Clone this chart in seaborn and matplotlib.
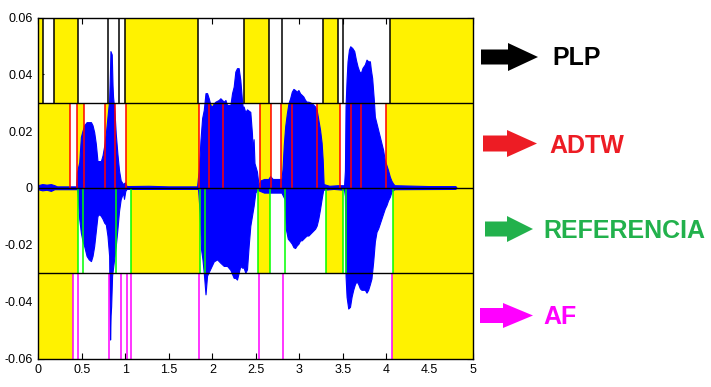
import numpy as np
import pandas as pd
import matplotlib
matplotlib.use("Agg")
import matplotlib.pyplot as plt
from matplotlib.patches import FancyArrow
import seaborn as sns

# waveform envelope (time in s, amplitude)
t_up = [0.0, 0.05, 0.10, 0.15, 0.19, 0.22, 0.44,
        0.449, 0.475, 0.494, 0.513, 0.532, 0.56, 0.61, 0.628, 0.647, 0.666, 0.685, 0.724,
        0.743, 0.763, 0.781, 0.80, 0.819, 0.828, 0.834, 0.849, 0.858, 0.864, 0.88, 0.895,
        0.914, 0.933, 0.952, 0.979, 1.0, 1.02, 1.27, 1.5, 1.83,
        1.842, 1.85, 1.869, 1.888, 1.907, 1.927, 1.945, 1.964, 1.984, 2.003, 2.022, 2.041,
        2.079, 2.098, 2.117, 2.137, 2.156, 2.175, 2.213, 2.232, 2.251, 2.27, 2.289, 2.308,
        2.327, 2.346, 2.358, 2.365, 2.385, 2.404, 2.442, 2.461, 2.47, 2.48, 2.49, 2.518, 2.537,
        2.56, 2.6, 2.65, 2.67, 2.7, 2.76, 2.80,
        2.812, 2.827, 2.843, 2.862, 2.881, 2.9, 2.919, 2.938, 2.957, 2.976, 2.995, 3.015,
        3.033, 3.052, 3.072, 3.09, 3.11, 3.148, 3.187, 3.205, 3.224, 3.244, 3.262, 3.274, 3.285,
        3.35, 3.45, 3.52,
        3.53, 3.537, 3.549, 3.56, 3.576, 3.591, 3.614, 3.637, 3.656, 3.675, 3.694, 3.713,
        3.732, 3.759, 3.778, 3.797, 3.817, 3.828, 3.843, 3.862, 3.874, 3.912, 3.931, 3.95,
        3.969, 3.988, 4.007, 4.026, 4.046, 4.064, 4.083, 4.1, 4.5, 4.8, 4.81]
v_up = [0.0008, 0.0012, 0.0010, 0.0012, 0.0008, 0.0004, 0.0004,
        0.0054, 0.0089, 0.0178, 0.020, 0.0219, 0.023, 0.023, 0.0219, 0.0195, 0.0154, 0.0093, 0.0093,
        0.0113, 0.0148, 0.019, 0.025, 0.0307, 0.040, 0.048, 0.0468, 0.036, 0.0319, 0.027, 0.019,
        0.0119, 0.006, 0.0025, 0.0012, 0.0018, 0.0005, 0.0006, 0.0004, 0.0004,
        0.004, 0.006, 0.0167, 0.0244, 0.0273, 0.0332, 0.0332, 0.0314, 0.029, 0.0285, 0.0296, 0.0302,
        0.0308, 0.0314, 0.0308, 0.0302, 0.0308, 0.029, 0.029, 0.0332, 0.0355, 0.0408, 0.042, 0.042,
        0.0379, 0.0308, 0.0273, 0.0285, 0.0265, 0.0275, 0.0266, 0.019, 0.012, 0.017, 0.0086, 0.0056, 0.0009,
        0.0025, 0.003, 0.003, 0.004, 0.003, 0.003, 0.003,
        0.0064, 0.015, 0.0215, 0.026, 0.0297, 0.0314, 0.0337, 0.0347, 0.0343, 0.0337, 0.0343, 0.0331,
        0.0326, 0.032, 0.0308, 0.0302, 0.0302, 0.0297, 0.0285, 0.0273, 0.0238, 0.0203, 0.0157, 0.0099, 0.0012,
        0.0006, 0.0008, 0.0008,
        0.006, 0.0285, 0.038, 0.0444, 0.0485, 0.0497, 0.0491, 0.048, 0.045, 0.0426, 0.0409, 0.0403,
        0.0421, 0.0433, 0.045, 0.0444, 0.0444, 0.0415, 0.0385, 0.0309, 0.0249, 0.0202, 0.0179, 0.0155,
        0.0132, 0.0096, 0.0079, 0.0061, 0.0038, 0.0024, 0.0014, 0.0008, 0.0005, 0.0005, 0.0]

t_lo = [0.0, 0.05, 0.10, 0.15, 0.19, 0.45,
        0.456, 0.475, 0.494, 0.513, 0.532, 0.56, 0.585, 0.61, 0.628, 0.647, 0.666, 0.685, 0.705,
        0.724, 0.743, 0.763, 0.781, 0.80, 0.819, 0.826, 0.830, 0.836, 0.842, 0.853, 0.876, 0.895,
        0.914, 0.933, 0.952, 0.979, 0.99, 1.005, 1.02, 1.83,
        1.842, 1.86, 1.876, 1.892, 1.907, 1.918, 1.927, 1.945, 1.984, 2.022, 2.06, 2.098, 2.137,
        2.175, 2.213, 2.251, 2.27, 2.289, 2.308, 2.327, 2.346, 2.365, 2.385, 2.404, 2.423, 2.442,
        2.48, 2.50, 2.52,
        2.6, 2.7, 2.8, 2.835,
        2.85, 2.873, 2.9, 2.919, 2.938, 2.957, 2.976, 2.995, 3.015, 3.033, 3.052, 3.072, 3.09,
        3.11, 3.148, 3.187, 3.205, 3.224, 3.244, 3.262, 3.28,
        3.4, 3.52,
        3.53, 3.537, 3.549, 3.568, 3.588, 3.606, 3.625, 3.645, 3.663, 3.683, 3.702, 3.72, 3.74,
        3.759, 3.778, 3.797, 3.817, 3.835, 3.855, 3.874, 3.893, 3.912, 3.931, 3.95, 3.969, 3.988,
        4.007, 4.026, 4.046, 4.064, 4.083, 4.1, 4.8, 4.81]
v_lo = [-0.0006, -0.0010, -0.0008, -0.0012, -0.0006, -0.0006,
        -0.0018, -0.011, -0.0159, -0.0188, -0.0206, -0.0241, -0.0253, -0.0259, -0.0241, -0.0206, -0.0153, -0.010, -0.0094,
        -0.010, -0.011, -0.0124, -0.013, -0.017, -0.024, -0.045, -0.0535, -0.045, -0.0418, -0.031, -0.0253, -0.0206,
        -0.0147, -0.0082, -0.0041, -0.0018, -0.004, -0.0012, -0.0005, -0.0005,
        -0.0006, -0.009, -0.0218, -0.0253, -0.030, -0.034, -0.0376, -0.031, -0.0285, -0.026, -0.0253, -0.0265, -0.0276,
        -0.0276, -0.029, -0.0318, -0.0318, -0.0324, -0.030, -0.0276, -0.0282, -0.0282, -0.030, -0.0288, -0.0206, -0.0135,
        -0.0065, -0.0018, -0.0008,
        -0.0018, -0.0018, -0.0018, -0.004,
        -0.0145, -0.018, -0.019, -0.0198, -0.021, -0.0213, -0.0204, -0.0198, -0.0186, -0.0186, -0.018, -0.0174, -0.0169,
        -0.0169, -0.0157, -0.0145, -0.0134, -0.011, -0.0075, -0.004, -0.0008,
        -0.0005, -0.0008,
        -0.003, -0.031, -0.0385, -0.0426, -0.042, -0.0385, -0.036, -0.034, -0.033, -0.034, -0.0355, -0.036, -0.036,
        -0.036, -0.037, -0.036, -0.034, -0.032, -0.026, -0.019, -0.0156, -0.0144, -0.0127, -0.0109, -0.0091, -0.0074,
        -0.0062, -0.0045, -0.0033, -0.0015, -0.0009, -0.0006, -0.0005, 0.0]

# segmentation of each method (s)
plp_lines = [0.055, 0.174, 0.456, 0.80, 0.925, 0.994, 1.83, 2.36, 2.655, 2.806, 3.274, 3.446, 3.499, 4.043]
plp_yellow = [(0, 0.055), (0.174, 0.456), (0.994, 1.83), (2.36, 2.655), (3.274, 3.446), (4.043, 5)]

adtw_lines = [0.364, 0.444, 0.525, 0.765, 0.880, 1.006, 1.842, 1.961, 2.117, 2.552, 2.678, 2.793,
              2.919, 3.198, 3.465, 3.594, 3.709, 3.995]
adtw_yellow = [(0, 0.364), (0.444, 0.525), (0.765, 0.880), (1.006, 1.842), (1.961, 2.117),
               (2.552, 2.678), (2.793, 2.919), (3.198, 3.465), (3.594, 3.709), (3.995, 5)]

ref_lines = [0.456, 0.513, 0.891, 1.063, 1.858, 1.911, 2.529, 2.667, 2.838, 3.308, 3.505, 3.537, 4.072]
ref_yellow = [(0, 0.456), (1.063, 1.858), (2.529, 2.667), (3.308, 3.505), (4.072, 5)]

af_lines = [0.399, 0.456, 0.811, 0.948, 1.017, 1.063, 1.842, 2.541, 2.816, 4.064]
af_yellow = [(0, 0.399), (4.064, 5)]

labels = ["PLP", "ADTW", "REFERENCIA", "AF"]
label_colors = ["#000000", "#ed1c24", "#22b14c", "#ff00ff"]
line_colors = ["#000000", "#ff0000", "#00ff00", "#ff00ff"]

sns.set_style("ticks")
plt.rcParams["font.family"] = ["Liberation Sans", "DejaVu Sans"]
plt.rcParams["axes.unicode_minus"] = False

fig = plt.figure(figsize=(7.11, 3.87), dpi=100)
ax = fig.add_axes([38.4 / 711, 1 - 358.5 / 387, (473.3 - 38.4) / 711, (358.5 - 17.5) / 387])

yel = "#fff200"
strips = [(0.03, 0.06, plp_yellow, plp_lines),
          (0.0, 0.03, adtw_yellow, adtw_lines),
          (-0.03, 0.0, ref_yellow, ref_lines),
          (-0.06, -0.03, af_yellow, af_lines)]

for (lo, hi, yl, ln), c in zip(strips, line_colors):
    for a, b in yl:
        ax.fill_between([a, b], lo, hi, color=yel, lw=0, zorder=1)

# waveform
ax.fill(np.r_[t_up, t_lo[::-1]], np.r_[v_up, v_lo[::-1]], color="#0000ff", lw=0, zorder=2)
up = pd.DataFrame({"t": t_up, "v": v_up})
dn = pd.DataFrame({"t": t_lo, "v": v_lo})
sns.lineplot(data=up, x="t", y="v", ax=ax, color="#0000ff", lw=0.8, estimator=None, zorder=2)
sns.lineplot(data=dn, x="t", y="v", ax=ax, color="#0000ff", lw=0.8, estimator=None, zorder=2)

for (lo, hi, yl, ln), c in zip(strips, line_colors):
    ax.vlines(ln, lo, hi, colors=c, lw=1.1, zorder=3)

for y in [0.03, 0.0, -0.03]:
    ax.axhline(y, color="black", lw=1.0, zorder=4)

ax.set_xlim(0, 5)
ax.set_ylim(-0.06, 0.06)
ax.set_xticks(np.arange(0, 5.01, 0.5))
ax.set_xticklabels(["0", "0.5", "1", "1.5", "2", "2.5", "3", "3.5", "4", "4.5", "5"])
ax.set_yticks([-0.06, -0.04, -0.02, 0, 0.02, 0.04, 0.06])
ax.set_yticklabels(["-0.06", "-0.04", "-0.02", "0", "0.02", "0.04", "0.06"])
ax.tick_params(direction="in", length=4, width=0.8, labelsize=9, pad=4,
               top=True, right=True, colors="black")
ax.set_xlabel("")
ax.set_ylabel("")
for s in ax.spines.values():
    s.set_visible(True)
    s.set_color("black")
    s.set_linewidth(1.0)
    s.set_zorder(5)

# arrows + labels on the right, in pixel coords
ov = fig.add_axes([0, 0, 1, 1])
ov.set_xlim(0, 711)
ov.set_ylim(387, 0)
ov.axis("off")
arrows = [(481, 538, 57, 15, 28, 30), (483, 537, 143.5, 16, 27, 30),
          (485, 533, 229, 15, 26, 26), (480, 533, 315.5, 15, 25, 30)]
text_pos = [(552, 58), (549, 146), (543, 231.5), (543, 317)]
for (x0, x1, yc, w, hw, hl), (tx, ty), lab, col in zip(arrows, text_pos, labels, label_colors):
    ov.add_patch(FancyArrow(x0, yc, x1 - x0, 0, width=w, head_width=hw, head_length=hl,
                            length_includes_head=True, color=col, lw=0))
    ov.text(tx, ty, lab, color=col, fontsize=18, fontweight="bold", ha="left", va="center")

fig.savefig("out.png", dpi=100)
